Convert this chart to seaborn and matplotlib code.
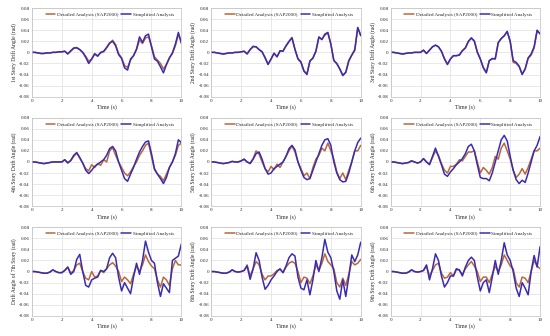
import numpy as np
import pandas as pd
import matplotlib
matplotlib.use("Agg")
import matplotlib.pyplot as plt
import seaborn as sns

# time axis, 0 to 10 s every 0.2 s
time_s = [round(0.2 * i, 1) for i in range(51)]

# drift angles, in units of 0.001 rad
det_1 = [0, 0, -1, -2, -2, -1, -1, 0, 0, 1, 1,
         2, -2, 2, 7, 9, 5, 0, -7, -16, -12,
         -2, -6, -1, 1, 8, 16, 22, 14, -2, -10,
         -24, -27, -14, -6, 5, 22, 16, 26, 28, 12,
         -8, -14, -20, -30, -22, -10, -2, 12, 32, 20]
sim_1 = [0, 0, -1, -2, -2, -1, -1, 0, 0, 1, 1,
         2, -3, 3, 8, 8, 5, 0, -9, -20, -12,
         -3, -7, 0, 2, 9, 17, 20, 12, -4, -11,
         -28, -32, -12, -6, 6, 28, 18, 30, 33, 10,
         -12, -16, -26, -37, -22, -10, -1, 15, 36, 16]

det_2 = [0, 0, -1, -2, -3, -2, -1, -1, 0, 0, 1,
         2, -2, 5, 10, 10, 5, 1, -9, -21, -12,
         -1, -8, 2, 3, 11, 19, 27, 6, -11, -17,
         -33, -39, -15, -11, 2, 27, 24, 31, 35, 15,
         -14, -21, -30, -41, -36, -16, -5, 3, 44, 31]
sim_2 = [0, 0, -1, -2, -3, -2, -1, -1, 0, 0, 1,
         2, -3, 5, 11, 10, 5, 1, -10, -22, -12,
         -2, -8, 3, 2, 12, 20, 26, 5, -12, -18,
         -34, -40, -16, -10, 2, 28, 23, 33, 36, 15,
         -15, -20, -30, -42, -36, -15, -5, 5, 45, 30]

det_3 = [0, 0, -1, -2, -3, -2, -1, -1, 0, 0, 0,
         4, -2, 4, 10, 13, 10, 2, -11, -21, -12,
         -6, -6, -4, 3, 8, 19, 26, 21, 1, -12,
         -27, -36, -15, -12, -11, 17, 25, 30, 37, 19,
         -18, -20, -26, -39, -30, -11, -5, 8, 39, 34]
sim_3 = [0, 0, -1, -2, -3, -2, -1, -1, 0, 0, 0,
         4, -2, 4, 10, 13, 10, 2, -12, -22, -12,
         -6, -6, -5, 3, 8, 20, 26, 20, 0, -12,
         -28, -37, -15, -11, -12, 18, 25, 30, 38, 20,
         -15, -18, -25, -40, -30, -10, -3, 10, 40, 33]

det_4 = [0, 0, -1, -2, -3, -2, -1, 0, 0, 0, 0,
         4, -1, 2, 10, 16, 7, -2, -12, -16, -5,
         -10, -3, -6, 4, 0, 20, 26, 12, 0, -10,
         -20, -25, -18, -8, 0, 12, 20, 30, 34, 10,
         -14, -22, -26, -34, -22, -10, 0, 12, 30, 34]
sim_4 = [0, 0, -1, -2, -3, -2, -1, 0, 0, 0, 0,
         4, -2, 3, 12, 17, 8, -2, -15, -21, -15,
         -8, -4, 0, 4, 12, 24, 28, 20, 0, -15,
         -30, -35, -22, -10, 5, 18, 28, 36, 38, 15,
         -12, -22, -30, -39, -28, -10, 0, 15, 40, 35]

det_5 = [0, 0, -1, -2, -3, -2, -1, 1, 0, 0, 2,
         5, 0, -2, 6, 20, 14, 0, -12, -18, -8,
         -14, -4, -10, 0, 10, 20, 29, 18, 0, -12,
         -25, -20, -30, -10, 5, 12, 25, 20, 34, 20,
         5, -18, -30, -20, -32, -15, 0, 20, 20, 30]
sim_5 = [0, 0, -1, -2, -3, -2, -1, 1, 0, 0, 2,
         5, 0, -3, 5, 15, 18, 5, -12, -22, -20,
         -12, -8, -4, 0, 10, 24, 30, 22, 0, -15,
         -28, -32, -30, -15, 0, 15, 30, 40, 42, 30,
         0, -20, -32, -36, -35, -20, 0, 20, 35, 43]

det_6 = [0, 0, -1, -2, -3, -2, -1, 2, 0, -2, 0,
         6, 0, -4, 8, 20, 12, -3, -15, -20, -8,
         -8, -4, 4, 2, 10, 18, 18, 20, 0, -20,
         -10, -15, -22, -10, 10, 5, 25, 34, 20, 5,
         -15, -28, -22, -12, -22, -10, 5, 20, 20, 25]
sim_6 = [0, 0, -1, -2, -3, -2, -1, 2, 0, -2, 0,
         6, 0, -5, 10, 25, 10, -5, -22, -26, -18,
         -12, -5, 0, 6, 15, 28, 32, 20, -5, -28,
         -30, -30, -34, -20, 0, 20, 40, 48, 38, 10,
         -15, -32, -39, -33, -37, -20, 0, 20, 30, 46]

det_7 = [0, 0, -1, -2, -3, -3, -1, 3, 0, -2, -2,
         2, 8, -3, 2, 12, 15, 0, -12, -15, 0,
         -10, -8, 2, -2, 5, 12, 16, 10, 0, -18,
         -10, -15, -22, -5, 10, 0, 12, 30, 18, 10,
         5, -15, -28, -10, -15, -25, 5, 20, 12, 12]
sim_7 = [0, 0, -1, -2, -3, -3, -1, 3, 0, -2, -2,
         2, 8, -5, 0, 22, 31, 0, -25, -28, -15,
         -12, -10, 2, 0, 5, 25, 33, 25, -10, -35,
         -20, -30, -40, -10, 15, -5, 20, 55, 35, 20,
         15, -20, -45, -22, -30, -38, 20, 24, 28, 50]

det_8 = [0, 0, -1, -2, -3, -3, -1, 3, 0, -1, 0,
         2, 12, -8, 5, 18, 12, -5, -15, -8, -8,
         -4, 2, 4, -2, 8, 15, 18, 15, 0, -20,
         -10, -12, -22, -8, 12, 2, 15, 32, 18, 12,
         5, -20, -28, -12, -25, -5, 18, 12, 15, 22]
sim_8 = [0, 0, -1, -2, -3, -3, -1, 3, 0, -1, 0,
         2, 10, -14, 5, 34, 20, -10, -32, -25, -15,
         -8, 0, 5, -2, 10, 25, 32, 28, -10, -30,
         -33, -15, -42, -15, 20, 0, 25, 58, 35, 25,
         0, -35, -50, -15, -45, -10, 30, 18, 30, 53]

det_9 = [0, 0, -1, -2, -3, -3, -1, 3, 0, -1, 0,
         2, 10, -8, 2, 12, 15, -3, -12, -10, -2,
         -8, 4, 2, -5, 5, 12, 18, 10, 0, -18,
         -10, -10, -20, -5, 10, 0, 12, 30, 20, 10,
         5, -20, -28, -10, -12, -20, 0, 20, 10, 5]
sim_9 = [0, 0, -1, -2, -3, -3, -1, 3, 0, -1, 0,
         2, 12, -15, 5, 32, 20, -8, -28, -20, -8,
         -8, 5, 3, -8, 8, 20, 26, 20, -10, -35,
         -20, -15, -38, -10, 20, -5, 20, 52, 30, 20,
         0, -30, -45, -20, -30, -42, 0, 29, 8, 45]

y_labels = ["1st Story Drift Angle (rad)", "2nd Story Drift Angle (rad)",
            "3rd Story Drift Angle (rad)", "4th Story Drift Angle (rad)",
            "5th Story Drift Angle (rad)", "6th Story Drift Angle (rad)",
            "Drift Angle of 7th Story (rad)", "8th Story Drift Angle (rad)",
            "9th Story Drift Angle (rad)"]
detailed = [det_1, det_2, det_3, det_4, det_5, det_6, det_7, det_8, det_9]
simplified = [sim_1, sim_2, sim_3, sim_4, sim_5, sim_6, sim_7, sim_8, sim_9]

x_ticks = [0, 2, 4, 6, 8, 10]
y_ticks = [-0.08, -0.06, -0.04, -0.02, 0, 0.02, 0.04, 0.06, 0.08]
y_tick_labels = ["-0.08", "-0.06", "-0.04", "-0.02", "0", "0.02", "0.04", "0.06", "0.08"]

name_det = "Detailed Analysis (SAP2000)"
name_sim = "Simplified Analysis"
palette = {name_det: "#B8683C", name_sim: "#3A2CB0"}

sns.set_style("whitegrid")
plt.rcParams["font.family"] = ["Liberation Serif", "DejaVu Serif"]

fig, axes = plt.subplots(3, 3, figsize=(5.5, 3.36), dpi=100)
fig.subplots_adjust(left=0.058, right=0.982, top=0.976, bottom=0.06,
                    wspace=0.2, hspace=0.237)

for i, ax in enumerate(axes.flat):
    df = pd.DataFrame({
        "time": time_s * 2,
        "drift": np.array(detailed[i] + simplified[i]) / 1000.0,
        "series": [name_det] * len(time_s) + [name_sim] * len(time_s),
    })
    sns.lineplot(data=df, x="time", y="drift", hue="series", palette=palette,
                 linewidth=1.1, ax=ax, solid_joinstyle="round")

    ax.set_xlim(0, 10)
    ax.set_ylim(-0.08, 0.08)
    ax.set_xticks(x_ticks)
    ax.set_yticks(y_ticks)
    ax.set_yticklabels(y_tick_labels)
    ax.tick_params(labelsize=3.6, length=0, pad=1.5)
    ax.grid(True, color="#d9d9d9", linewidth=0.4)
    for sp in ax.spines.values():
        sp.set_color("#bfbfbf")
        sp.set_linewidth(0.5)

    ax.set_xlabel("Time (s)", fontsize=4.2, labelpad=1)
    ax.set_ylabel(y_labels[i], fontsize=4.0, labelpad=1.5)

    handles, labels = ax.get_legend_handles_labels()
    ax.legend(handles, labels, loc="upper center", ncol=2, frameon=False,
              fontsize=3.7, handlelength=1.9, handletextpad=0.3,
              columnspacing=0.6, borderaxespad=0.0,
              bbox_to_anchor=(0.52, 0.975))

plt.savefig("out.png", dpi=100)
